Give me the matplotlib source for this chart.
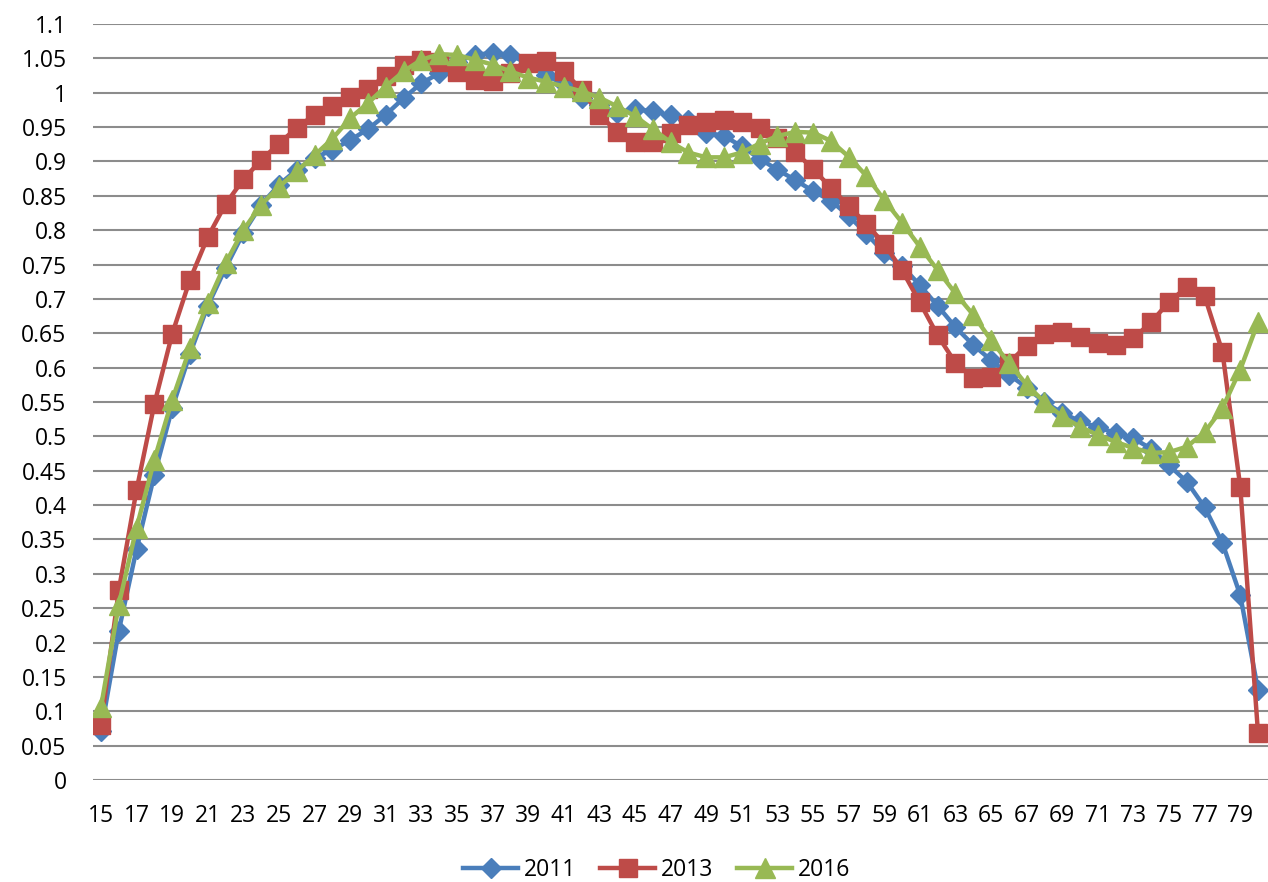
import numpy as np
import matplotlib
matplotlib.use("Agg")
import matplotlib.pyplot as plt

ages = list(range(15, 81))

y2011 = [0.071, 0.217, 0.336, 0.444, 0.541, 0.620, 0.690, 0.745, 0.796, 0.837,
         0.866, 0.888, 0.905, 0.917, 0.931, 0.947, 0.968, 0.992, 1.014, 1.028,
         1.045, 1.055, 1.058, 1.055, 1.042, 1.026, 1.012, 0.992, 0.982, 0.970,
         0.976, 0.973, 0.967, 0.961, 0.942, 0.937, 0.922, 0.904, 0.888, 0.873,
         0.857, 0.843, 0.821, 0.795, 0.767, 0.748, 0.720, 0.690, 0.659, 0.633,
         0.611, 0.590, 0.571, 0.550, 0.534, 0.522, 0.513, 0.505, 0.497, 0.482,
         0.458, 0.434, 0.397, 0.345, 0.269, 0.131]

y2013 = [0.080, 0.276, 0.422, 0.547, 0.649, 0.728, 0.790, 0.838, 0.874, 0.902,
         0.926, 0.949, 0.968, 0.981, 0.994, 1.006, 1.025, 1.040, 1.048, 1.045,
         1.030, 1.018, 1.017, 1.028, 1.043, 1.046, 1.031, 1.004, 0.968, 0.943,
         0.929, 0.929, 0.941, 0.953, 0.957, 0.960, 0.957, 0.948, 0.934, 0.914,
         0.889, 0.862, 0.835, 0.809, 0.780, 0.742, 0.695, 0.647, 0.607, 0.585,
         0.587, 0.607, 0.632, 0.649, 0.652, 0.645, 0.636, 0.633, 0.643, 0.666,
         0.696, 0.717, 0.704, 0.623, 0.427, 0.068]

y2016 = [0.106, 0.255, 0.367, 0.466, 0.553, 0.628, 0.694, 0.752, 0.800, 0.837,
         0.863, 0.886, 0.909, 0.933, 0.963, 0.985, 1.009, 1.031, 1.048, 1.056,
         1.055, 1.048, 1.041, 1.031, 1.022, 1.016, 1.009, 1.002, 0.993, 0.980,
         0.966, 0.947, 0.928, 0.913, 0.906, 0.906, 0.913, 0.926, 0.937, 0.943,
         0.942, 0.930, 0.907, 0.879, 0.844, 0.811, 0.776, 0.742, 0.708, 0.677,
         0.640, 0.607, 0.575, 0.550, 0.529, 0.514, 0.502, 0.492, 0.483, 0.476,
         0.477, 0.485, 0.506, 0.541, 0.597, 0.666]

series_labels = ["2011", "2013", "2016"]
colors = ["#4A7EBB", "#BE4B48", "#98B954"]
markers = ["D", "s", "^"]
msizes = [10, 13.5, 14]

x_ticks = list(range(15, 80, 2))
y_ticks = [round(v * 0.05, 2) for v in range(0, 23)]


def fmt(v):
    return f"{v:.2f}".rstrip("0").rstrip(".")


plt.rcParams["font.family"] = ["Open Sans", "DejaVu Sans"]

fig = plt.figure(figsize=(12.68, 8.82), dpi=100)
ax = fig.add_axes([0.0733, 0.1156, 0.9267, 0.8572])

for vals, lab, c, m, ms in zip([y2011, y2013, y2016], series_labels, colors, markers, msizes):
    ax.plot(ages, vals, color=c, lw=3.2, marker=m, markersize=ms,
            markeredgecolor=c, markerfacecolor=c, label=lab, zorder=3)

ax.set_xlim(14.55, 80.56)
ax.set_ylim(0, 1.1)
ax.set_yticks(y_ticks)
ax.set_yticklabels([fmt(v) for v in y_ticks])
ax.set_xticks(x_ticks)
ax.set_xticklabels([str(t) for t in x_ticks])
ax.tick_params(axis="both", length=0, labelsize=16.5, colors="black")
ax.tick_params(axis="y", pad=19)
ax.tick_params(axis="x", pad=17)
ax.grid(axis="y", color="#8C8C8C", lw=1.5)
ax.set_axisbelow(True)
for s in ax.spines.values():
    s.set_visible(False)

fig.legend(loc="center", bbox_to_anchor=(0.518, 0.0136), ncol=3, frameon=False,
           fontsize=16.5, handlelength=2.4, columnspacing=1.05, handletextpad=0.25,
           borderpad=0)

fig.savefig("out.png", dpi=100)
